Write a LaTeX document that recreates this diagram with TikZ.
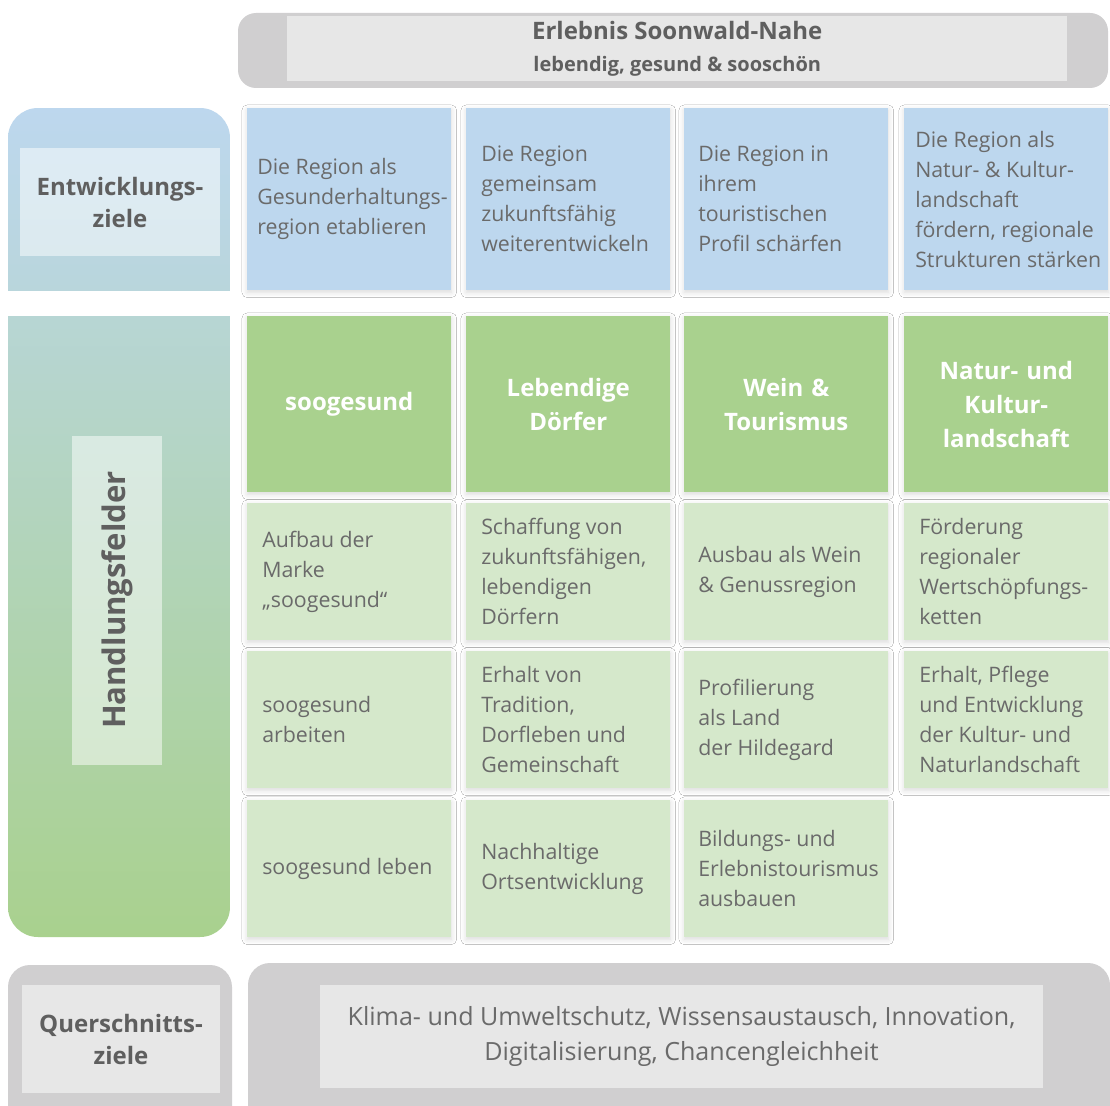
\documentclass[tikz,border=0pt]{standalone}
\usepackage{fontspec}
\setmainfont{Open Sans}
\usetikzlibrary{positioning,shadows.blur}

\newdimen\pxu \pxu=0.75pt

\definecolor{zielblau}{HTML}{BDD7EE}
\definecolor{blaugruen}{HTML}{B8D6D8}
\definecolor{feldgruen}{HTML}{A9D18E}
\definecolor{massgruen}{HTML}{D5E8CB}
\definecolor{quergrau}{HTML}{D0CFD0}
\definecolor{textgrau}{HTML}{6A6A6A}
\definecolor{titelgrau}{HTML}{5F5F5F}

\tikzset{
  feld/.style={anchor=north west, minimum width=204\pxu, inner sep=0pt,
    blur shadow={shadow xshift=0pt, shadow yshift=-1.5pt, shadow blur radius=4pt, shadow opacity=15}},
  ziel/.style={feld, fill=zielblau, minimum height=182\pxu},
  kopf/.style={feld, fill=feldgruen, minimum height=176\pxu, text width=190\pxu, align=center,
    text=white, font=\fontsize{18}{25.5}\selectfont\bfseries},
  mass/.style={feld, fill=massgruen, minimum height=137\pxu},
  feldtext/.style={inner sep=0pt, align=left, text=textgrau,
    font=\fontsize{16}{22.5}\selectfont},
  glas/.style={fill=white, fill opacity=0.5, text opacity=1, inner sep=0pt,
    align=center, text=titelgrau, font=\fontsize{18}{24}\selectfont\bfseries}
}

\begin{document}
\begin{tikzpicture}[x=0.75pt,y=-0.75pt]
  \useasboundingbox (0,0) rectangle (1110,1106);
  \fill[white] (0,0) rectangle (1110,1106);
  \clip (0,0) rectangle (1110,1106);

  % Panels
  \fill[quergrau, rounded corners=18\pxu] (238,13) rectangle (1108,88);
  \begin{scope}
    \clip (8,108) rectangle (230,290);
    \path[rounded corners=30\pxu, top color=zielblau, bottom color=blaugruen] (8,108) rectangle (230,330);
  \end{scope}
  \begin{scope}
    \clip (8,316) rectangle (230,937);
    \path[rounded corners=30\pxu, top color=blaugruen, bottom color=feldgruen] (8,280) rectangle (230,937);
  \end{scope}
  \fill[quergrau, rounded corners=22\pxu] (8,965) rectangle (232,1140);
  \fill[quergrau, rounded corners=22\pxu] (248,963) rectangle (1110,1140);

  % Labels
  \node[glas, anchor=north west, minimum width=780\pxu, minimum height=65\pxu] (leitbild) at (287,16)
    {{\fontsize{18}{23}\selectfont Erlebnis Soonwald-Nahe}\\{\fontsize{15}{23}\selectfont lebendig, gesund \& sooschön}};
  \node[glas, minimum width=200\pxu, minimum height=108\pxu] (entw) at (120,202) {Entwicklungs-\\ziele};
  \node[glas, rotate=90, minimum width=329\pxu, minimum height=90\pxu,
    font=\fontsize{23.3}{28}\selectfont\bfseries] (handl) at (117,600) {Handlungsfelder};
  \node[glas, minimum width=198\pxu, minimum height=108\pxu] (quer) at (121,1039) {Querschnitts-\\ziele};
  \node[glas, minimum width=723\pxu, minimum height=103\pxu, text=textgrau,
    font=\fontsize{18.8}{26.25}\selectfont] (querziele) at (681.5,1036.5)
    {Klima- und Umweltschutz, Wissensaustausch, Innovation,\\Digitalisierung, Chancengleichheit};

  % Entwicklungsziele
  \node[ziel] (z1) at (247,108) {};
  \node[ziel] (z2) at (466,108) {};
  \node[ziel] (z3) at (684,108) {};
  \node[ziel] (z4) at (904,108) {};
  \node[feldtext, right=10\pxu of z1.west] (z1t) {Die Region als\\Gesunderhaltungs-\\region etablieren};
  \node[feldtext, right=15\pxu of z2.west] (z2t) {Die Region\\gemeinsam\\zukunftsfähig\\weiterentwickeln};
  \node[feldtext, right=14\pxu of z3.west] (z3t) {Die Region in\\ihrem\\touristischen\\Profil schärfen};
  \node[feldtext, right=11\pxu of z4.west] (z4t) {Die Region als\\Natur- \& Kultur-\\landschaft\\fördern, regionale\\Strukturen stärken};

  % Handlungsfelder
  \node[kopf] (h1) at (247,316) {soogesund};
  \node[kopf] (h2) at (466,316) {Lebendige\\Dörfer};
  \node[kopf] (h3) at (684,316) {Wein \&\\Tourismus};
  \node[kopf] (h4) at (904,316) {Natur- und\\Kultur-\\landschaft};

  % Massnahmen
  \node[mass] (m11) at (247,503) {};
  \node[mass] (m21) at (466,503) {};
  \node[mass] (m31) at (684,503) {};
  \node[mass] (m41) at (904,503) {};
  \node[mass] (m12) at (247,651) {};
  \node[mass] (m22) at (466,651) {};
  \node[mass] (m32) at (684,651) {};
  \node[mass] (m42) at (904,651) {};
  \node[mass] (m13) at (247,800) {};
  \node[mass] (m23) at (466,800) {};
  \node[mass] (m33) at (684,800) {};

  \node[feldtext, right=15\pxu of m11.west] (m11t) {Aufbau der\\Marke\\„soogesund“};
  \node[feldtext, right=15\pxu of m21.west] (m21t) {Schaffung von\\zukunftsfähigen,\\lebendigen\\Dörfern};
  \node[feldtext, right=14\pxu of m31.west] (m31t) {Ausbau als Wein\\\& Genussregion};
  \node[feldtext, right=15\pxu of m41.west] (m41t) {Förderung\\regionaler\\Wertschöpfungs-\\ketten};

  \node[feldtext, right=15\pxu of m12.west] (m12t) {soogesund\\arbeiten};
  \node[feldtext, right=15\pxu of m22.west] (m22t) {Erhalt von\\Tradition,\\Dorfleben und\\Gemeinschaft};
  \node[feldtext, right=14\pxu of m32.west] (m32t) {Profilierung\\als Land\\der Hildegard};
  \node[feldtext, right=15\pxu of m42.west] (m42t) {Erhalt, Pflege\\und Entwicklung\\der Kultur- und\\Naturlandschaft};

  \node[feldtext, right=15\pxu of m13.west] (m13t) {soogesund leben};
  \node[feldtext, right=15\pxu of m23.west] (m23t) {Nachhaltige\\Ortsentwicklung};
  \node[feldtext, right=14\pxu of m33.west] (m33t) {Bildungs- und\\Erlebnistourismus\\ausbauen};
\end{tikzpicture}
\end{document}
